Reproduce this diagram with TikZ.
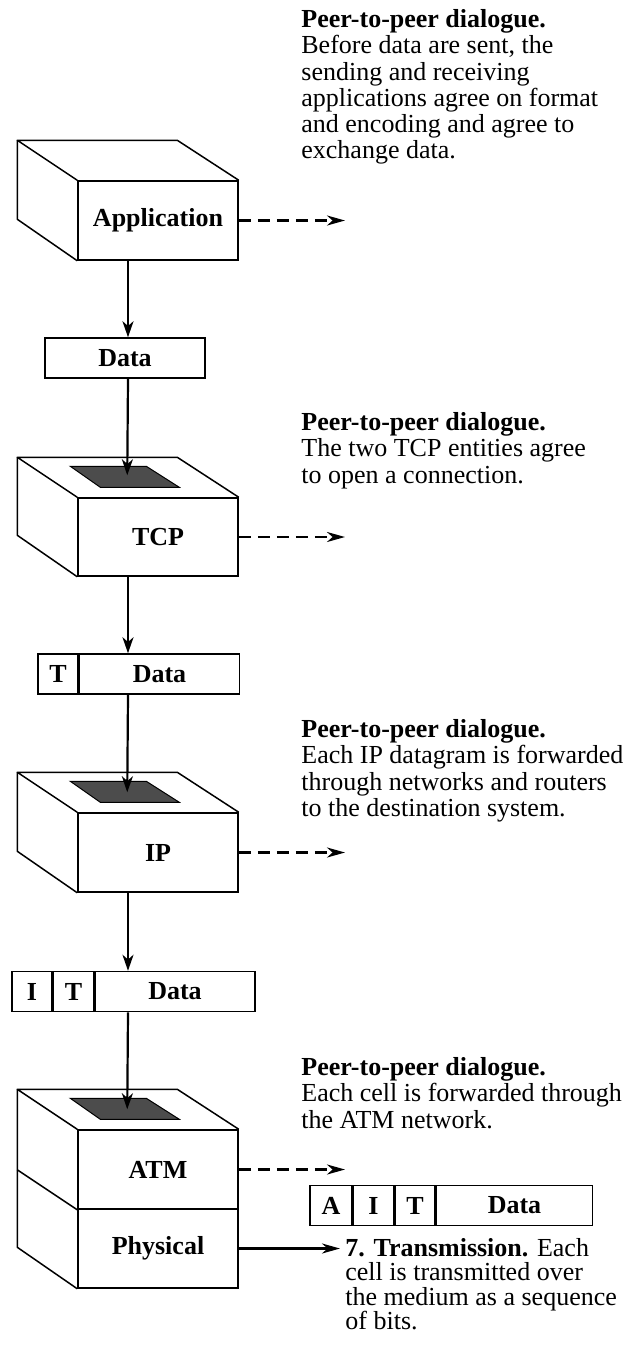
\documentclass[tikz,border=0pt]{standalone}
\usepackage{fontspec}
\setmainfont{Liberation Serif}
\usetikzlibrary{arrows.meta}
\tikzset{
  face/.style={draw, line width=0.75pt, inner sep=0pt, minimum width=80pt,
    font=\fontsize{13}{15}\selectfont\bfseries},
  edge3d/.style={line width=0.75pt, line join=round},
  patch/.style={draw, line width=0.5pt, fill=black!70},
  pdu/.style={draw, line width=0.75pt, inner sep=0pt, minimum height=20pt,
    font=\fontsize{13}{15}\selectfont\bfseries},
  down/.style={line width=1.1pt, -{Stealth[length=8pt, width=5.5pt, inset=2.4pt]}},
  peer/.style={line width=1.2pt, dash pattern=on 6pt off 3.5pt,
    -{Stealth[length=9pt, width=5pt, inset=2.8pt]}},
  solidpeer/.style={line width=1.2pt, -{Stealth[length=9pt, width=5pt, inset=2.8pt]}},
  note/.style={anchor=north west, inner sep=0pt, align=left,
    font=\fontsize{13}{13.15}\selectfont},
}
\begin{document}
\begin{tikzpicture}[x=0.5pt, y=-0.5pt]
\useasboundingbox (0,0) rectangle (637,1351);
\fill[white] (0,0) rectangle (637,1351);

% helper x positions
\coordinate (ax) at (128,0);
\coordinate (tipx) at (345,0);
\coordinate (ptipx) at (340,0);

% ---------- Application ----------
\node[face, minimum height=39.5pt] (app) at (158,220.5) {Application};
\draw[edge3d] (app.north west) -- ++(-60,-40) coordinate (appBL) -- ++(160,0) -- (app.north east);
\draw[edge3d] (appBL) -- ++(0,79) -- (app.south west);

% Data
\node[pdu, minimum width=80pt] (d1) at (125,358) {Data};

% ---------- TCP ----------
\node[face, minimum height=39pt] (tcp) at (158,537) {TCP};
\draw[edge3d] (tcp.north west) -- ++(-60,-40) coordinate (tcpBL) -- ++(160,0) -- (tcp.north east);
\draw[edge3d] (tcpBL) -- ++(0,78) -- (tcp.south west);
\path (tcp.north west) ++(-7,-31) coordinate (tp1) ++(76,0) coordinate (tp2)
      ++(33,21) coordinate (tp3) ++(-79,0) coordinate (tp4);
\draw[patch] (tp1) -- (tp2) -- (tp3) -- (tp4) -- cycle;
\path (tcp.north west) ++(50,-22) coordinate (tcpin);

% T | Data
\node[pdu, minimum width=20pt] (t2) at (58,674) {T};
\node[pdu, minimum width=80pt, anchor=west] (d2) at (t2.east) {Data};

% ---------- IP ----------
\node[face, minimum height=39.5pt] (ip) at (158,852.5) {IP};
\draw[edge3d] (ip.north west) -- ++(-60,-40) coordinate (ipBL) -- ++(160,0) -- (ip.north east);
\draw[edge3d] (ipBL) -- ++(0,79) -- (ip.south west);
\path (ip.north west) ++(-7,-31) coordinate (ip1) ++(76,0) coordinate (ip2)
      ++(33,21) coordinate (ip3) ++(-79,0) coordinate (ip4);
\draw[patch] (ip1) -- (ip2) -- (ip3) -- (ip4) -- cycle;
\path (ip.north west) ++(50,-20) coordinate (ipin);

% I | T | Data
\node[pdu, minimum width=20pt] (i3) at (32,991.5) {I};
\node[pdu, minimum width=20pt, anchor=west] (t3) at (i3.east) {T};
\node[pdu, minimum width=80pt, anchor=west] (d3) at (t3.east) {Data};

% ---------- ATM / Physical ----------
\node[face, minimum height=39.5pt] (atm) at (158,1169.5) {ATM};
\node[face, minimum height=39.5pt] (phys) at (158,1248.5) {Physical};
\draw[edge3d] (atm.north west) -- ++(-60,-40) coordinate (atmBL) -- ++(160,0) -- (atm.north east);
\draw[edge3d] (atmBL) -- ++(0,158) -- (phys.south west);
\draw[edge3d] (atm.south west) -- ++(-60,-40);
\path (atm.north west) ++(-7,-31) coordinate (am1) ++(76,0) coordinate (am2)
      ++(33,21) coordinate (am3) ++(-79,0) coordinate (am4);
\draw[patch] (am1) -- (am2) -- (am3) -- (am4) -- cycle;
\path (atm.north west) ++(50,-20) coordinate (atmin);

% A | I | T | Data
\node[pdu, minimum width=21pt] (a4) at (331,1205.5) {A};
\node[pdu, minimum width=20pt, anchor=west] (i4) at (a4.east) {I};
\node[pdu, minimum width=20pt, anchor=west] (t4) at (i4.east) {T};
\node[pdu, minimum width=78pt, anchor=west] (d4) at (t4.east) {Data};

% ---------- vertical arrows ----------
\draw[down] (app.south -| ax) -- (d1.north -| ax);
\draw[down] (d1.south -| ax) -- (tcpin);
\draw[down] (tcp.south -| ax) -- (d2.north -| ax);
\draw[down] (d2.south -| ax) -- (ipin);
\draw[down] (ip.south -| ax) -- (d3.north -| ax);
\draw[down] (d3.south -| ax) -- (atmin);

% ---------- peer arrows ----------
\draw[peer] (app.east) -- (app.east -| tipx);
\draw[peer] (tcp.east) -- (tcp.east -| tipx);
\draw[peer] (ip.east) -- (ip.east -| tipx);
\draw[peer] (atm.east) -- (atm.east -| tipx);
\draw[solidpeer] (phys.east) -- (phys.east -| ptipx);

% ---------- notes ----------
\node[note] (n1) at (301,9) {\textbf{Peer-to-peer dialogue.}\\Before data are sent, the\\sending and receiving\\applications agree on format\\and encoding and agree to\\exchange data.};
\node[note] (n2) at (301,412) {\textbf{Peer-to-peer dialogue.}\\The two TCP entities agree\\to open a connection.};
\node[note] (n3) at (301,719) {\textbf{Peer-to-peer dialogue.}\\Each IP datagram is forwarded\\through networks and routers\\to the destination system.};
\node[note] (n4) at (301,1057) {\textbf{Peer-to-peer dialogue.}\\Each cell is forwarded through\\the ATM network.};
\node[note, font=\fontsize{13}{12.2}\selectfont] (n5) at (345,1238) {\textbf{7. Transmission.} Each\\cell is transmitted over\\the medium as a sequence\\of bits.};
\end{tikzpicture}
\end{document}
